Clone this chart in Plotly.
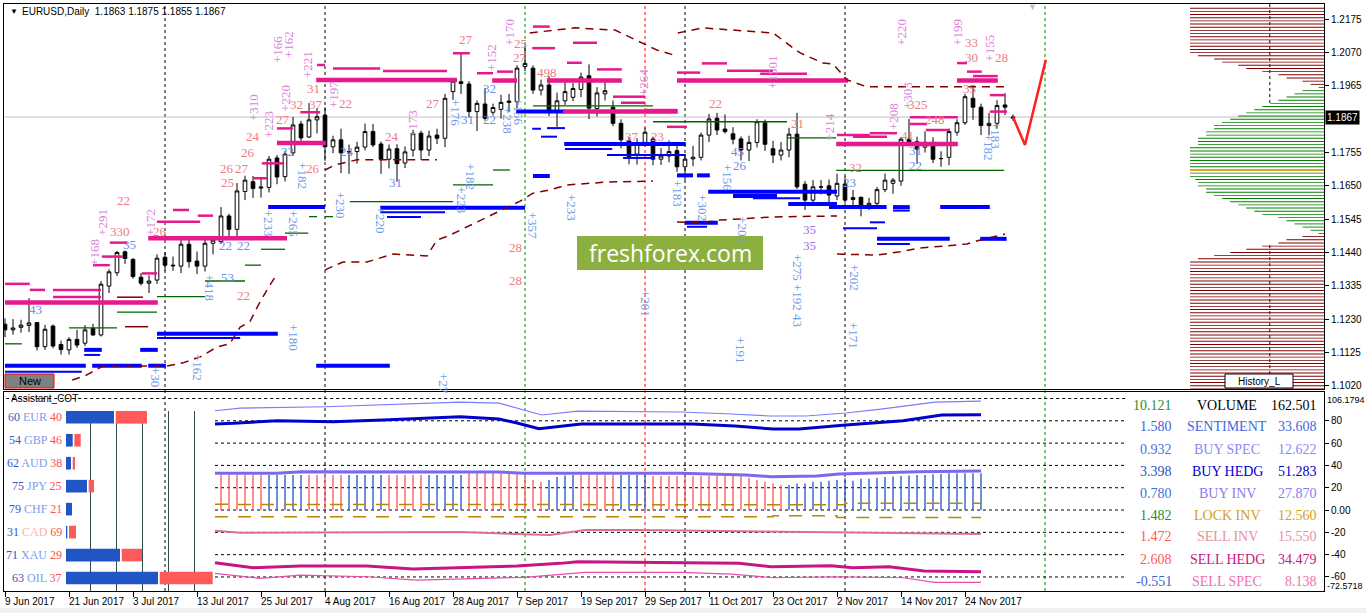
import plotly.graph_objects as go

W, H = 1366, 613

# ---------------------------------------------------------------- price data (EURUSD daily, 9 Jun - 4 Dec 2017)
opens = [1.1214, 1.1196, 1.1204, 1.1210, 1.1219, 1.1143, 1.1208, 1.1150, 1.1133, 1.1166,
         1.1154, 1.1201, 1.1180, 1.1334, 1.1376, 1.1442, 1.1418, 1.1362, 1.1343, 1.1353,
         1.1425, 1.1400, 1.1397, 1.1466, 1.1413, 1.1397, 1.1469, 1.1474, 1.1555, 1.1513,
         1.1632, 1.1663, 1.1643, 1.1645, 1.1738, 1.1679, 1.1754, 1.1845, 1.1804, 1.1858,
         1.1873, 1.1773, 1.1795, 1.1757, 1.1758, 1.1772, 1.1821, 1.1782, 1.1734, 1.1767,
         1.1722, 1.1763, 1.1816, 1.1763, 1.1810, 1.1800, 1.1947, 1.1978, 1.1971, 1.1884,
         1.1908, 1.1882, 1.1891, 1.1913, 1.1915, 1.2026, 1.2021, 1.1952, 1.1968, 1.1881,
         1.1918, 1.1929, 1.1954, 1.1997, 1.1894, 1.1940, 1.1898, 1.1847, 1.1792, 1.1750,
         1.1787, 1.1798, 1.1734, 1.1744, 1.1761, 1.1710, 1.1735, 1.1740, 1.1810, 1.1863,
         1.1829, 1.1814, 1.1798, 1.1763, 1.1787, 1.1849, 1.1767, 1.1747, 1.1763, 1.1813,
         1.1655, 1.1605, 1.1647, 1.1650, 1.1618, 1.1656, 1.1607, 1.1614, 1.1588, 1.1595,
         1.1638, 1.1658, 1.1665, 1.1797, 1.1789, 1.1772, 1.1787, 1.1736, 1.1740, 1.1819,
         1.1849, 1.1926, 1.1898, 1.1840, 1.1847, 1.1905, 1.1863]
highs = [1.1232, 1.1230, 1.1228, 1.1296, 1.1219, 1.1212, 1.1213, 1.1162, 1.1173, 1.1196,
         1.1211, 1.1215, 1.1350, 1.1387, 1.1445, 1.1446, 1.1423, 1.1375, 1.1368, 1.1434,
         1.1441, 1.1427, 1.1480, 1.1490, 1.1443, 1.1490, 1.1490, 1.1583, 1.1562, 1.1659,
         1.1682, 1.1681, 1.1675, 1.1744, 1.1747, 1.1760, 1.1867, 1.1855, 1.1911, 1.1895,
         1.1897, 1.1808, 1.1830, 1.1780, 1.1789, 1.1846, 1.1845, 1.1790, 1.1780, 1.1781,
         1.1774, 1.1827, 1.1824, 1.1824, 1.1830, 1.1940, 1.1985, 1.2070, 1.1980, 1.1919,
         1.1958, 1.1909, 1.1937, 1.1940, 1.2030, 1.2092, 1.2030, 1.1985, 1.1996, 1.1944,
         1.1982, 1.1974, 1.2007, 1.2033, 1.1961, 1.1985, 1.1919, 1.1860, 1.1803, 1.1800,
         1.1834, 1.1805, 1.1769, 1.1793, 1.1779, 1.1749, 1.1776, 1.1818, 1.1877, 1.1880,
         1.1875, 1.1835, 1.1806, 1.1808, 1.1860, 1.1859, 1.1792, 1.1788, 1.1833, 1.1880,
         1.1665, 1.1668, 1.1668, 1.1670, 1.1688, 1.1680, 1.1637, 1.1616, 1.1612, 1.1646,
         1.1689, 1.1675, 1.1803, 1.1861, 1.1805, 1.1822, 1.1803, 1.1759, 1.1830, 1.1860,
         1.1940, 1.1961, 1.1909, 1.1880, 1.1920, 1.1942, 1.1875]
lows = [1.1173, 1.1181, 1.1187, 1.1189, 1.1131, 1.1133, 1.1138, 1.1118, 1.1118, 1.1139,
        1.1145, 1.1177, 1.1175, 1.1312, 1.1366, 1.1404, 1.1357, 1.1336, 1.1312, 1.1341,
        1.1381, 1.1382, 1.1375, 1.1392, 1.1372, 1.1380, 1.1434, 1.1467, 1.1479, 1.1479,
        1.1605, 1.1612, 1.1613, 1.1629, 1.1655, 1.1664, 1.1745, 1.1792, 1.1801, 1.1815,
        1.1729, 1.1753, 1.1690, 1.1688, 1.1720, 1.1762, 1.1772, 1.1688, 1.1705, 1.1663,
        1.1706, 1.1742, 1.1732, 1.1744, 1.1782, 1.1772, 1.1921, 1.1940, 1.1866, 1.1823,
        1.1855, 1.1872, 1.1862, 1.1882, 1.1895, 1.2011, 1.1940, 1.1935, 1.1870, 1.1836,
        1.1905, 1.1917, 1.1930, 1.1860, 1.1869, 1.1919, 1.1838, 1.1768, 1.1718, 1.1717,
        1.1774, 1.1715, 1.1716, 1.1724, 1.1694, 1.1668, 1.1712, 1.1730, 1.1788, 1.1810,
        1.1815, 1.1781, 1.1730, 1.1728, 1.1771, 1.1760, 1.1722, 1.1730, 1.1740, 1.1640,
        1.1574, 1.1594, 1.1623, 1.1590, 1.1605, 1.1594, 1.1583, 1.1554, 1.1574, 1.1580,
        1.1630, 1.1625, 1.1650, 1.1775, 1.1719, 1.1755, 1.1722, 1.1710, 1.1715, 1.1808,
        1.1842, 1.1858, 1.1810, 1.1810, 1.1830, 1.1873, 1.1855]
closes = [1.1196, 1.1202, 1.1211, 1.1218, 1.1143, 1.1198, 1.1145, 1.1134, 1.1166, 1.1148,
          1.1196, 1.1180, 1.1340, 1.1379, 1.1440, 1.1421, 1.1364, 1.1343, 1.1350, 1.1422,
          1.1400, 1.1398, 1.1466, 1.1411, 1.1397, 1.1469, 1.1479, 1.1555, 1.1513, 1.1634,
          1.1668, 1.1642, 1.1646, 1.1734, 1.1678, 1.1750, 1.1842, 1.1801, 1.1858, 1.1868,
          1.1773, 1.1795, 1.1754, 1.1758, 1.1772, 1.1821, 1.1779, 1.1734, 1.1766, 1.1720,
          1.1757, 1.1816, 1.1763, 1.1807, 1.1800, 1.1926, 1.1980, 1.1973, 1.1884, 1.1910,
          1.1863, 1.1897, 1.1913, 1.1917, 1.2021, 1.2036, 1.1952, 1.1968, 1.1884, 1.1918,
          1.1947, 1.1957, 1.1993, 1.1895, 1.1943, 1.1950, 1.1847, 1.1795, 1.1742, 1.1784,
          1.1819, 1.1734, 1.1744, 1.1758, 1.1710, 1.1734, 1.1740, 1.1810, 1.1861, 1.1826,
          1.1821, 1.1797, 1.1763, 1.1787, 1.1852, 1.1781, 1.1747, 1.1763, 1.1813, 1.1647,
          1.1605, 1.1647, 1.1646, 1.1621, 1.1658, 1.1605, 1.1613, 1.1584, 1.1595, 1.1638,
          1.1668, 1.1668, 1.1797, 1.1786, 1.1766, 1.1787, 1.1734, 1.1736, 1.1821, 1.1849,
          1.1931, 1.1898, 1.1840, 1.1847, 1.1903, 1.1898, 1.1867]
bars = list(range(len(closes)))

tick_labels = ["9 Jun 2017", "21 Jun 2017", "3 Jul 2017", "13 Jul 2017", "25 Jul 2017",
               "4 Aug 2017", "16 Aug 2017", "28 Aug 2017", "7 Sep 2017", "19 Sep 2017",
               "29 Sep 2017", "11 Oct 2017", "23 Oct 2017", "2 Nov 2017", "14 Nov 2017",
               "24 Nov 2017"]
tick_step = 8
price_ticks = [1.2175, 1.2070, 1.1965, 1.1755, 1.1650, 1.1545, 1.1440, 1.1335, 1.1230, 1.1125, 1.1020]
last_price = 1.1867

# red forecast
forecast_bar = [126, 127.5, 130.1]
forecast_price = [1.1867, 1.1779, 1.2047]

# horizontal levels: (from bar, to bar, price)
pink_thick = [(0, 19.1, 1.1282), (17.9, 35.25, 1.1485), (38.9, 56.5, 1.1984), (60.9, 64, 1.1982),
              (67.75, 77.1, 1.1982), (34, 40.1, 1.1785), (69.75, 84.1, 1.1884), (84, 105.4, 1.1982),
              (103.9, 119.1, 1.1782), (119, 124.1, 1.1982)]
pink_thin = [(41, 46.9, 1.2020), (47.25, 55.25, 1.2012), (39, 40, 1.2031), (66, 68.1, 1.2152),
             (65.9, 68.75, 1.2084), (56, 58.1, 1.2068), (70.25, 72.1, 1.2038), (61.5, 63.5, 1.2010),
             (59, 61, 1.2005), (74, 77.1, 1.2017), (71, 74, 1.2101), (76, 80, 1.1931),
             (77, 80, 1.1912), (80, 84, 1.1889), (87.1, 90.25, 1.2036), (84, 86.9, 1.2007),
             (90.25, 96, 1.2013), (94.4, 100.25, 1.2003), (82.75, 85.25, 1.1836), (21, 23, 1.1574),
             (19, 24.4, 1.1537), (24.1, 26, 1.1556), (17.1, 19, 1.1374), (11, 13.1, 1.1400),
             (12.1, 14.75, 1.1427), (13.1, 15.25, 1.1471), (0, 3.1, 1.1341), (3.1, 5, 1.1322),
             (6, 12, 1.1322), (6, 12, 1.1300), (32.1, 34.75, 1.1721), (31, 32.75, 1.1674),
             (34, 36, 1.1831), (36.9, 39.4, 1.1882), (104, 108.1, 1.1810), (106, 110.25, 1.1805),
             (108.1, 111.5, 1.1816), (115.1, 118.1, 1.1826), (113.1, 119.1, 1.1866),
             (113.1, 115.25, 1.1845), (123.1, 125, 1.1936), (123.1, 125.25, 1.1884),
             (119, 120.25, 1.2037), (120.25, 122.1, 1.2010), (121, 124.1, 1.1996)]
blue_thick = [(0, 10.1, 1.1083), (10.9, 17.1, 1.1083), (17.9, 20.1, 1.1083), (19, 34.1, 1.1184),
              (32.9, 40, 1.1583), (46.9, 65, 1.1581), (38.9, 48.1, 1.1083), (63.9, 70, 1.1884),
              (69.9, 85.1, 1.1782), (66, 68.1, 1.1681), (87.9, 104, 1.1631), (91, 96.5, 1.1618),
              (103, 110.2, 1.1583), (111, 113.1, 1.1583), (116.9, 123.1, 1.1583), (109, 118.1, 1.1483),
              (121.9, 125.2, 1.1483), (85, 89.1, 1.1534), (84, 86, 1.1683), (86.5, 88.1, 1.1683),
              (9.9, 12.1, 1.1133), (16.9, 19.1, 1.1133), (97.9, 104, 1.1593)]
blue_thin = [(0, 9.6, 1.1064), (19, 29.4, 1.1170), (9.9, 11.9, 1.1117), (46.9, 55, 1.1567),
             (47.75, 52, 1.1552), (70, 75.9, 1.1766), (75.25, 85.1, 1.1747), (77.25, 81.25, 1.1738),
             (67.75, 70, 1.1832), (67, 69, 1.1805), (111, 113.1, 1.1572), (109, 113.1, 1.1467),
             (108.1, 110, 1.1535), (104.75, 109, 1.1516), (85.25, 87.75, 1.1521), (93.5, 99.4, 1.1611),
             (65.9, 67, 1.1830)]
green_levels = [(0, 2.1, 1.1152), (8, 14, 1.1202), (14, 19, 1.1252), (19, 25, 1.1301), (25, 30, 1.1350),
                (30, 32, 1.1400), (32, 35, 1.1450), (35, 37.9, 1.1501), (38, 39, 1.1553), (40, 41, 1.1553),
                (43.1, 56, 1.1600), (56, 61, 1.1653), (61, 63.1, 1.1700), (66, 81, 1.1902),
                (81, 97.75, 1.1852), (97.75, 103.9, 1.1801), (103.9, 124.9, 1.1699)]
brown_short = [(14, 17.25, 1.1299), (15, 17.9, 1.1206)]
brown_curves = [
    [(8.4, 1.1038), (10, 1.1051), (12.25, 1.1082), (20.25, 1.1082), (22.25, 1.1092), (24.4, 1.1111),
     (26.5, 1.1142), (28.1, 1.1152), (29.4, 1.1205), (30.6, 1.1221), (31.6, 1.1271), (32.75, 1.1322),
     (34, 1.1372)],
    [(40, 1.1385), (42.25, 1.1410), (45.25, 1.1410), (48.5, 1.1435), (52.75, 1.1429), (54, 1.1479),
     (55.4, 1.1492), (64.4, 1.1602), (66, 1.1627), (68.1, 1.1637), (70.25, 1.1653), (75.25, 1.1662),
     (81, 1.1665)],
    [(84, 1.1536), (86.9, 1.1533), (89.4, 1.1542), (96, 1.1552), (104, 1.1555)],
    [(104, 1.1435), (109, 1.1432), (111.9, 1.1442), (114.4, 1.1454), (117.25, 1.1460), (120.25, 1.1467),
     (121.9, 1.1479), (125, 1.1498)],
    [(65.6, 1.2132), (71.25, 1.2148), (76.25, 1.2141), (80.25, 1.2094), (81.5, 1.2078), (83.5, 1.2063)],
    [(84.1, 1.2132), (87.25, 1.2148), (91, 1.2141), (96, 1.2132), (98.5, 1.2085), (99.4, 1.2069),
     (102.25, 1.2037), (103.5, 1.2034), (105.25, 1.1984), (107.75, 1.1962), (125, 1.1962)],
    [(40, 1.1700), (41.25, 1.1716), (44, 1.1732), (54, 1.1732)],
]

separators = [20, 40, 65, 80, 85, 105, 130]
separator_colors = ["black", "black", "#008000", "#FF0000", "black", "black", "#008000"]

# volume profile on the right edge (length relative to the widest line)
profile_top = 1.2210
profile_step = 0.001
profile_len = ([1.0] * 15 +
               [0.94, 0.82, 0.76, 0.64, 0.58, 0.46, 0.34, 0.28, 0.16, 0.10,
                0.04, 0.16, 0.22, 0.28, 0.34, 0.40, 0.46, 0.52, 0.58, 0.64,
                0.70, 0.76, 0.82, 0.82, 0.88, 0.88, 0.94, 0.94, 0.94] +
               [1.0] * 10 +
               [0.96, 0.94, 0.94, 0.88, 0.88, 0.82, 0.76, 0.70, 0.64, 0.58,
                0.52, 0.46, 0.34, 0.28, 0.22, 0.16, 0.10, 0.04, 0.16, 0.28,
                0.34, 0.46, 0.58, 0.70, 0.82, 0.94] +
               [1.0] * 41)
profile_zone = "r" * 25 + "g" * 47 + "r" * 49
poc_price = 1.1700
history_bar = 158.1

# chart text labels: (text, bar, price, kind)
labels = [
    ("22", 14.75, 1.1605, "c"), ("330", 14.4, 1.1505, "c"), ("26", 19.4, 1.1505, "c"),
    ("22", 29.75, 1.1303, "c"), ("26", 30.4, 1.1754, "c"), ("24", 31.0, 1.1804, "c"),
    ("27", 34.75, 1.1858, "c"), ("26", 27.75, 1.1706, "c"), ("27", 29.6, 1.1706, "c"),
    ("25", 27.75, 1.1659, "c"), ("32", 36.4, 1.1905, "c"), ("37", 38.9, 1.1905, "c"),
    ("22", 42.5, 1.1908, "c"), ("31", 38.5, 1.1958, "c"), ("26", 38.5, 1.1706, "c"),
    ("24", 48.4, 1.1807, "c"), ("27", 53.5, 1.1908, "c"), ("27", 57.6, 1.2110, "c"),
    ("22", 88.75, 1.1908, "c"), ("28", 63.75, 1.1457, "c"), ("28", 63.75, 1.1353, "c"),
    ("33", 120.75, 1.2103, "c"), ("30", 120.75, 1.2056, "c"), ("28", 124.6, 1.2053, "c"),
    ("37", 78.4, 1.1807, "c"), ("23", 81.6, 1.1807, "c"), ("21", 99.0, 1.1845, "c"),
    ("25", 64.4, 1.2100, "c"), ("27", 64.4, 1.2053, "c"), ("498", 67.75, 1.2006, "c"),
    ("35", 120.6, 1.1958, "c"), ("41", 112.75, 1.1810, "c"), ("32", 106.25, 1.1709, "c"),
    ("248", 116.25, 1.1858, "c"), ("325", 114.1, 1.1905, "c"),
    ("43", 3.75, 1.1259, "b"), ("35", 15.6, 1.1464, "b"), ("53", 27.75, 1.1360, "b"),
    ("31", 48.75, 1.1659, "b"), ("32", 60.6, 1.1958, "b"), ("31", 57.75, 1.1858, "b"),
    ("22", 60.6, 1.1858, "b"), ("26", 91.9, 1.1713, "b"), ("22", 113.75, 1.1713, "b"),
    ("31", 113.75, 1.1760, "b"), ("22", 27.6, 1.1461, "b"), ("22", 29.75, 1.1461, "b"),
    ("24", 42.75, 1.1757, "b"), ("23", 105.6, 1.1659, "b"), ("22", 35.25, 1.1757, "b"),
    ("35", 100.6, 1.1511, "v"), ("35", 100.6, 1.1461, "v"), ("45", 91.6, 1.1757, "v"),
    ("+291", 12.1, 1.1536, "o"), ("+168", 11.25, 1.1439, "o"), ("+172", 18.1, 1.1536, "o"),
    ("+220", 35.1, 1.1927, "o"), ("+166", 34.0, 1.2078, "o"), ("+162", 35.5, 1.2094, "o"),
    ("+221", 37.9, 1.2031, "o"), ("+197", 41.0, 1.1936, "o"), ("+310", 31.0, 1.1895, "o"),
    ("+223", 33.0, 1.1842, "o"), ("+170", 63.1, 1.2135, "o"), ("+152", 60.9, 1.2053, "o"),
    ("+264", 79.75, 1.1974, "o"), ("+1501", 96.0, 1.2006, "o"), ("+214", 103.1, 1.1836, "o"),
    ("+220", 112.1, 1.2135, "o"), ("+199", 119.1, 1.2135, "o"), ("+155", 123.1, 1.2085, "o"),
    ("+208", 111.0, 1.1867, "o"), ("+303", 112.75, 1.1933, "o"), ("+173", 51.0, 1.1845, "o"),
    ("+180", 36.0, 1.1174, "r"), ("+162", 24.0, 1.1079, "r"), ("+30", 18.75, 1.1048, "r"),
    ("+418", 25.6, 1.1328, "r"), ("+27", 54.75, 1.1029, "r"), ("+230", 41.9, 1.1590, "r"),
    ("+220", 46.9, 1.1543, "r"), ("+357", 65.9, 1.1527, "r"), ("+233", 70.9, 1.1583, "r"),
    ("+201", 80.0, 1.1281, "r"), ("+191", 91.9, 1.1133, "r"), ("+171", 106.0, 1.1180, "r"),
    ("+202", 106.1, 1.1360, "r"), ("+275 +192 43", 99.0, 1.1322, "r"), ("+203", 92.1, 1.1511, "r"),
    ("+183", 84.0, 1.1628, "r"), ("+302", 87.25, 1.1583, "r"), ("+156", 90.25, 1.1678, "r"),
    ("+182", 58.1, 1.1678, "r"), ("+223", 57.1, 1.1605, "r"), ("+238", 62.75, 1.1858, "r"),
    ("+156", 64.1, 1.1883, "r"), ("+176", 56.25, 1.1883, "r"), ("+182", 122.9, 1.1773, "r"),
    ("+183", 123.9, 1.1810, "r"), ("+265", 36.0, 1.1533, "r"), ("+233", 32.9, 1.1533, "r"),
    ("+182", 37.25, 1.1684, "r"),
]

# ---------------------------------------------------------------- Assistant_COT panel data
cur_names = ["EUR", "GBP", "AUD", "JPY", "CHF", "CAD", "XAU", "OIL"]
cur_buy = [60, 54, 62, 75, 79, 31, 71, 63]
cur_sell = [40, 46, 38, 25, 21, 69, 29, 37]
cur_buy_bar = [48.0, 6.7, 5.0, 21.0, 6.0, 1.3, 54.0, 92.0]
cur_sell_bar = [31.3, 6.3, 2.3, 5.3, 0.0, 7.0, 20.3, 53.0]

cot_names = ["VOLUME", "SENTIMENT", "BUY SPEC", "BUY HEDG", "BUY INV",
             "LOCK INV", "SELL INV", "SELL HEDG", "SELL SPEC"]
cot_change = [10.121, 1.580, 0.932, 3.398, 0.780, 1.482, 1.472, 2.608, -0.551]
cot_value = [162.501, 33.608, 12.622, 51.283, 27.870, 12.560, 15.550, 34.479, 8.138]
cot_levels = [100, 80, 60, 40, 20, 0, -20, -40, -60]

sentiment_bars = list(range(27, 123))
sentiment_side = "S" * 6 + "B" * 5 + "S" * 5 + "B" * 5 + "S" * 5 + "B" * 5 + "S" * 10 + "B" * 4 + \
                 "S" * 5 + "B" * 4 + "S" * 17 + "B" * 25
sentiment_top = ([31.4] * 31 + [33.0] * 7 + [30.0, 26.9, 25.4] + [26.9, 29.6, 31.0, 31.4] +
                 [31.4] * 9 + [30.5] * 12 + [29.0, 26.9, 25.4, 23.9, 22.4] +
                 [22.4, 23.9, 23.9, 25.4, 25.4, 26.3, 26.9, 28.4, 26.3, 28.0, 28.0, 29.0, 29.6,
                  30.0, 30.5, 31.0, 31.4, 31.4, 32.0, 32.3, 32.9, 32.9, 32.9, 32.9, 32.9])

buy_spec_bar = [26.25, 29.4, 40, 49.4, 56.9, 61.75, 64.9, 67.1, 71.6, 84.5, 90.75, 95.75, 100.1, 105.1, 109.5, 116.25, 122]
buy_spec_val = [89.0, 91.4, 92.6, 95.0, 96.8, 95.9, 89.6, 85.2, 88.7, 87.9, 86.1, 84.3, 84.3, 87.0, 90.5, 96.8, 97.7]
buy_hedg_bar = [26.25, 28.5, 34, 41, 47.25, 56.9, 61.75, 64, 66.75, 68.9, 72, 85.9, 91.25, 96.1, 99.25, 105.1, 112.25, 117.1, 122]
buy_hedg_val = [77.1, 77.7, 80.1, 79.2, 80.7, 83.6, 81.6, 78.0, 72.9, 74.7, 77.1, 77.1, 75.3, 72.6, 72.6, 76.2, 80.0, 85.2, 85.4]
buy_inv_bar = [26.25, 34, 37.1, 48.1, 56.9, 61.75, 64.9, 84.5, 92.6, 95.75, 101.5, 104.25, 114, 122]
buy_inv_val = [32.9, 32.9, 34.3, 34.3, 34.3, 34.1, 32.9, 32.9, 31.4, 29.9, 30.5, 32.3, 34.3, 35.0]
lock_hi_bar = [26.25, 84, 84, 105, 105, 122]
lock_hi_val = [5.1, 5.1, 4.7, 4.7, 6.0, 6.0]
lock_lo_bar = [26.25, 96, 96, 104, 104, 122]
lock_lo_val = [-6.0, -6.0, -5.1, -5.1, -6.6, -6.6]
sell_inv_bar = [26.25, 29.4, 56.9, 61.75, 68.1, 70.75, 72.5, 79.1, 101.5, 106, 122]
sell_inv_val = [-18.6, -20.3, -19.7, -20.6, -22.4, -19.7, -17.9, -17.9, -19.7, -20.6, -21.5]
sell_hedg_bar = [26.25, 31, 36.9, 45.25, 51, 56.9, 64, 69.4, 71.6, 91.75, 95.75, 103.25, 106, 110.5, 114.9, 122]
sell_hedg_val = [-47.2, -51.7, -50.2, -50.2, -52.9, -51.7, -50.2, -47.8, -46.3, -47.8, -50.8, -49.9, -51.7, -50.8, -54.7, -55.3]
sell_spec_bar = [26.25, 28.5, 31.9, 36.9, 45.25, 51.5, 56.9, 64.9, 72.5, 84.5, 90.75, 96.1, 103.75, 112.25, 116.25, 122]
sell_spec_val = [-56.7, -58.3, -61.2, -58.3, -59.8, -62.8, -61.6, -60.3, -55.8, -55.8, -57.4, -60.7, -59.8, -60.7, -64.8, -64.8]


# ---------------------------------------------------------------- helpers
def px_x(px):
    return px / W


def px_y(px):
    return 1 - px / H


def seg_xy(segs):
    xs, ys = [], []
    for b0, b1, p in segs:
        xs += [b0, b1, None]
        ys += [p, p, None]
    return xs, ys


def curve_xy(curves):
    xs, ys = [], []
    for c in curves:
        xs += [pt[0] for pt in c] + [None]
        ys += [pt[1] for pt in c] + [None]
    return xs, ys


def note(x, y, text, xref="paper", yref="paper", xanchor="center", yanchor="middle", **kw):
    # annotation with explicit anchors (paper 'auto' anchors jump to the nearest side)
    d = dict(x=x, y=y, xref=xref, yref=yref, text=text, showarrow=False,
             xanchor=xanchor, yanchor=yanchor)
    d.update(kw)
    return d


SERIF = "Liberation Serif"
SANS = "Liberation Sans"
X_RANGE = [-0.125, 164.875]

fig = go.Figure()

# ---- volume profile
full_w = 16.75
right_edge = X_RANGE[1]
prof_prices = [round(profile_top - k * profile_step, 4) for k in range(len(profile_len))]
for zone, color in [("r", "#800000"), ("g", "#008000")]:
    ys = [p for p, z in zip(prof_prices, profile_zone) if z == zone]
    ln = [v * full_w for v, z in zip(profile_len, profile_zone) if z == zone]
    fig.add_trace(go.Bar(orientation="h", y=ys, x=ln, base=[right_edge - v for v in ln],
                         width=0.00028, marker=dict(color=color, line=dict(width=0)),
                         xaxis="x", yaxis="y", showlegend=False, hoverinfo="skip"))
fig.add_trace(go.Bar(orientation="h", y=[poc_price], x=[full_w], base=[right_edge - full_w],
                     width=0.0007, marker=dict(color="#E0A030", line=dict(width=0)),
                     xaxis="x", yaxis="y", showlegend=False, hoverinfo="skip"))

# ---- level lines
for segs, color, width in [(green_levels, "#006400", 1.3), (brown_short, "#800000", 1.5),
                           (blue_thin, "#0000FF", 2), (blue_thick, "#0000FF", 4),
                           (pink_thin, "#E6198C", 2.5), (pink_thick, "#E6198C", 4.5)]:
    xs, ys = seg_xy(segs)
    fig.add_trace(go.Scatter(x=xs, y=ys, mode="lines", line=dict(color=color, width=width),
                             xaxis="x", yaxis="y", showlegend=False, hoverinfo="skip"))
xs, ys = curve_xy(brown_curves)
fig.add_trace(go.Scatter(x=xs, y=ys, mode="lines", line=dict(color="#800000", width=1.5, dash="8px,6px"),
                         xaxis="x", yaxis="y", showlegend=False, hoverinfo="skip"))

# ---- candles
fig.add_trace(go.Candlestick(
    x=bars, open=opens, high=highs, low=lows, close=closes,
    increasing=dict(line=dict(color="black", width=1), fillcolor="white"),
    decreasing=dict(line=dict(color="black", width=1), fillcolor="black"),
    whiskerwidth=0, xaxis="x", yaxis="y", showlegend=False, hoverinfo="skip"))

# ---- forecast
fig.add_trace(go.Scatter(x=forecast_bar, y=forecast_price, mode="lines",
                         line=dict(color="#FF2020", width=2.5), xaxis="x", yaxis="y",
                         showlegend=False, hoverinfo="skip"))

# ---- COT panel: sentiment sticks and lines
fig.add_trace(go.Bar(x=sentiment_bars, y=sentiment_top, base=0, width=0.16,
                     marker=dict(color=["#FF5050" if s == "S" else "#1E50C0" for s in sentiment_side],
                                 line=dict(width=0)),
                     xaxis="x2", yaxis="y2", showlegend=False, hoverinfo="skip"))
for bx, vy, color, width, dash in [
        (buy_spec_bar, buy_spec_val, "#7B7BFF", 1.2, "solid"),
        (buy_hedg_bar, buy_hedg_val, "#0000CD", 3, "solid"),
        (buy_inv_bar, buy_inv_val, "#7B68EE", 3, "solid"),
        (lock_hi_bar, lock_hi_val, "#B8860B", 1.5, "13px,10px"),
        (lock_lo_bar, lock_lo_val, "#B8860B", 1.5, "13px,10px"),
        (sell_inv_bar, sell_inv_val, "#DB7093", 2, "solid"),
        (sell_hedg_bar, sell_hedg_val, "#C71585", 3, "solid"),
        (sell_spec_bar, sell_spec_val, "#E84DAA", 1.2, "solid")]:
    fig.add_trace(go.Scatter(x=bx, y=vy, mode="lines", line=dict(color=color, width=width, dash=dash),
                             xaxis="x2", yaxis="y2", showlegend=False, hoverinfo="skip"))

# ---- COT panel: currency strength bars
rows = list(range(len(cur_names)))
gap = 1.7
fig.add_trace(go.Bar(orientation="h", y=rows, x=cur_buy_bar, base=0, width=0.55,
                     marker=dict(color="#1F55C4", line=dict(width=0)),
                     xaxis="x3", yaxis="y3", showlegend=False, hoverinfo="skip"))
fig.add_trace(go.Bar(orientation="h", y=rows, x=cur_sell_bar, base=[b + gap for b in cur_buy_bar],
                     width=0.55, marker=dict(color="#FF5A5A", line=dict(width=0)),
                     xaxis="x3", yaxis="y3", showlegend=False, hoverinfo="skip"))

# ---------------------------------------------------------------- shapes
shapes = []
for b, c in zip(separators, separator_colors):
    shapes.append(dict(type="line", xref="x", yref="paper", x0=b, x1=b, y0=px_y(591), y1=px_y(4),
                       line=dict(color=c, width=1, dash="3px,3px"), layer="below"))
shapes.append(dict(type="line", xref="paper", yref="y", x0=px_x(4), x1=px_x(1324), y0=last_price,
                   y1=last_price, line=dict(color="#C0C0C0", width=1), layer="below"))
for y0, y1 in [(1.2223, 1.1910), (1.1463, 1.1010)]:
    shapes.append(dict(type="line", xref="x", yref="y", x0=history_bar, x1=history_bar, y0=y0, y1=y1,
                       line=dict(color="black", width=1, dash="3px,3px"), layer="below"))
for lv in cot_levels:
    shapes.append(dict(type="line", xref="x2", yref="y2", x0=-0.6 if lv == 100 else 26.25, x1=140.25,
                       y0=lv, y1=lv, line=dict(color="black", width=1, dash="3px,3px"), layer="below"))
# watermark box
shapes.append(dict(type="rect", xref="paper", yref="paper", x0=px_x(577), x1=px_x(763),
                   y0=px_y(270), y1=px_y(236), fillcolor="#8CB03F", line=dict(width=0)))
# buttons
shapes.append(dict(type="rect", xref="paper", yref="paper", x0=px_x(5), x1=px_x(54),
                   y0=px_y(388), y1=px_y(374), fillcolor="#808080", line=dict(color="#FF0000", width=1)))
shapes.append(dict(type="rect", xref="paper", yref="paper", x0=px_x(1225), x1=px_x(1293),
                   y0=px_y(388), y1=px_y(374), fillcolor="white", line=dict(color="black", width=1)))
# grey strip under the chart window
shapes.append(dict(type="rect", xref="paper", yref="paper", x0=0, x1=1, y0=0, y1=px_y(608),
                   fillcolor="#F0F0F0", line=dict(width=0)))

# ---------------------------------------------------------------- annotations
ann = []
kind_style = {"c": ("#EE7B86", 0), "b": ("#6B8DEB", 0), "v": ("#9B6FE0", 0),
              "o": ("#DA82DA", -90), "r": ("#6E9CEB", 90)}
for text, b, p, kind in labels:
    color, angle = kind_style[kind]
    ann.append(note(b, p, text, xref="x", yref="y", textangle=angle,
                    font=dict(family=SERIF, size=13, color=color)))

ann.append(note(px_x(8), px_y(12), "▼", xanchor="left", font=dict(family=SANS, size=8, color="black")))
ann.append(note(px_x(20), px_y(12), "EURUSD,Daily&nbsp;&nbsp;1.1863 1.1875 1.1855 1.1867", xanchor="left",
                font=dict(family=SANS, size=10, color="black")))
ann.append(note(px_x(1032), px_y(7), "▼", font=dict(family=SANS, size=9, color="#C0C0C0")))
ann.append(note(px_x(670), px_y(253), "freshforex.com", font=dict(family="Open Sans", size=23, color="white")))
ann.append(note(px_x(29.5), px_y(381), "New", font=dict(family=SANS, size=11, color="black")))
ann.append(note(px_x(1259), px_y(381), "History_L", font=dict(family=SANS, size=10, color="black")))
ann.append(note(px_x(1325), last_price, "1.1867", yref="y", xanchor="left", bgcolor="black", borderpad=1,
                font=dict(family=SANS, size=10, color="white")))

# date labels (left aligned on their ticks, as the terminal draws them)
for k, t in enumerate(tick_labels):
    ann.append(note(k * tick_step, px_y(601), t, xref="x2", xanchor="left", xshift=-2,
                    font=dict(family=SANS, size=10, color="black")))

# COT panel texts
ann.append(note(px_x(9), px_y(398), "Assistant_COT", xanchor="left",
                font=dict(family=SANS, size=10, color="black")))
ann.append(note(px_x(1325), px_y(400), "106.1794", xanchor="left",
                font=dict(family=SANS, size=9, color="black")))
ann.append(note(px_x(1325), px_y(586), "-72.5718", xanchor="left",
                font=dict(family=SANS, size=9, color="black")))
for r, (n, b, s) in enumerate(zip(cur_names, cur_buy, cur_sell)):
    name_col = "#7B9CF0" if b >= s else "#FFB0B0"
    txt = (f"<span style='color:#3556C8'>{b}</span> <span style='color:{name_col}'>{n}</span>"
           f" <span style='color:#FF5050'>{s}</span>")
    ann.append(note(px_x(64), r, txt, yref="y3", xanchor="right", font=dict(family=SERIF, size=12)))

change_colors = ["#2E8B2E", "#3A62D8", "#4A6EE0", "#2A55C8", "#4A70D8", "#2E8B2E", "#FF5A5A", "#FF5A5A", "#3A62D8"]
name_colors = ["#000000", "#4169E1", "#8A8AF5", "#0000CD", "#8A7AEF", "#D4A020", "#E8909E", "#C71585", "#F070B0"]
row_px = [405, 426.7, 449.3, 471, 493.3, 515, 536.7, 559, 581]
for r in range(len(cot_names)):
    y = px_y(row_px[r])
    ann.append(note(px_x(1174), y, f"{cot_change[r]:.3f}", xanchor="right",
                    font=dict(family=SERIF, size=14, color=change_colors[r])))
    ann.append(note(px_x(1227), y, cot_names[r], font=dict(family=SERIF, size=14, color=name_colors[r])))
    ann.append(note(px_x(1319), y, f"{cot_value[r]:.3f}", xanchor="right",
                    font=dict(family=SERIF, size=14, color=name_colors[r])))

# ---------------------------------------------------------------- layout
axis_common = dict(showgrid=False, zeroline=False, showline=True, linecolor="black", linewidth=1,
                   mirror=True, fixedrange=True)
fig.update_layout(
    width=W, height=H, margin=dict(l=0, r=0, t=0, b=0),
    paper_bgcolor="white", plot_bgcolor="rgba(0,0,0,0)",
    barmode="overlay", hovermode=False, showlegend=False, boxgap=0.35,
    font=dict(family=SANS, size=10, color="black"),
    xaxis=dict(domain=[px_x(4), px_x(1324)], range=X_RANGE, anchor="y", showticklabels=False,
               ticks="", rangeslider=dict(visible=False), automargin=False, **axis_common),
    yaxis=dict(domain=[px_y(389), px_y(4)], range=[1.100961, 1.222323], anchor="x", side="right",
               tickvals=price_ticks, ticktext=[f"{v:.4f}" for v in price_ticks], ticks="outside",
               ticklen=4, tickcolor="black", tickfont=dict(family=SANS, size=10, color="black"),
               automargin=False, **axis_common),
    xaxis2=dict(domain=[px_x(4), px_x(1324)], range=X_RANGE, anchor="y2", showticklabels=False,
                tickvals=[k * tick_step for k in range(len(tick_labels))], ticks="outside", ticklen=5,
                tickcolor="black", automargin=False, **axis_common),
    yaxis2=dict(domain=[px_y(591), px_y(391.6)], range=[-72.5718, 106.1794], anchor="x2", side="right",
                tickvals=[80, 60, 40, 20, 0, -20, -40, -60],
                ticktext=["80", "60", "40", "20", "0.00", "-20", "-40", "-60"],
                ticks="outside", ticklen=4, tickcolor="black",
                tickfont=dict(family=SANS, size=10, color="black"), automargin=False, **axis_common),
    xaxis3=dict(domain=[px_x(66), px_x(213)], range=[0, 147], anchor="y3", showgrid=True,
                gridcolor="#2F4F4F", gridwidth=1.3, tickvals=[24.3, 50.3, 76.3, 102.7, 128.3],
                showticklabels=False, ticks="", zeroline=False, showline=False, fixedrange=True),
    yaxis3=dict(domain=[px_y(591), px_y(411)], range=[7.565, -0.274], anchor="x3", visible=False,
                fixedrange=True),
    shapes=shapes,
    annotations=ann,
)

fig.write_html("out.html", config={"displayModeBar": False, "staticPlot": True},
               post_script="document.body.style.margin='0';document.body.style.overflow='hidden';")
